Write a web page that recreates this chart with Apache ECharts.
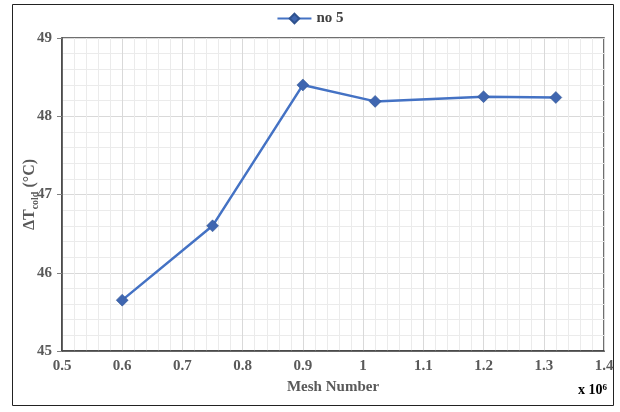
<!DOCTYPE html>
<html>
<head>
<meta charset="utf-8">
<script src="https://cdn.jsdelivr.net/npm/echarts@6/dist/echarts.min.js"></script>
<style>
  html, body { margin: 0; padding: 0; background: #fff; }
  #chart { width: 620px; height: 412px; }
</style>
</head>
<body>
<div id="chart"></div>
<script>
  // mesh number (x 10^6) and cold side temperature difference
  var meshNumber = [0.6, 0.75, 0.9, 1.02, 1.2, 1.32];
  var deltaTCold = [45.65, 46.6, 48.4, 48.19, 48.25, 48.24];
  var seriesName = 'no 5';

  var chart = echarts.init(document.getElementById('chart'));
  var labelFont = {
    fontFamily: 'Liberation Serif',
    fontWeight: 'bold',
    fontSize: 14,
    color: '#595959'
  };

  chart.setOption({
    animation: false,
    legend: {
      top: 6,
      left: 'center',
      data: [seriesName],
      itemWidth: 34,
      itemHeight: 12,
      textStyle: { fontFamily: 'Liberation Serif', fontWeight: 'bold', fontSize: 15, color: '#404040' }
    },
    grid: {
      left: 62, right: 16, top: 38, bottom: 61,
      show: true,
      borderColor: '#404040',
      borderWidth: 1.5
    },
    xAxis: {
      type: 'value',
      min: 0.5, max: 1.4, interval: 0.1,
      name: 'Mesh Number',
      nameLocation: 'middle',
      nameGap: 29,
      nameMoveOverlap: false,
      nameTextStyle: Object.assign({}, labelFont, { fontSize: 15 }),
      axisLine: { show: true, lineStyle: { color: '#404040', width: 1.5 } },
      axisTick: { show: false },
      axisLabel: Object.assign({ margin: 8 }, labelFont, { fontSize: 15 }),
      splitLine: { show: true, lineStyle: { color: '#d9d9d9', width: 1 } },
      minorTick: { show: false, splitNumber: 5 },
      minorSplitLine: { show: true, lineStyle: { color: '#ebebeb', width: 1 } }
    },
    yAxis: {
      type: 'value',
      min: 45, max: 49, interval: 1,
      name: '{d|ΔT}{s|cold}{d| (°C)}',
      nameLocation: 'middle',
      nameGap: 22,
      nameMoveOverlap: false,
      nameTextStyle: {
        rich: {
          d: Object.assign({ lineHeight: 20 }, labelFont, { fontSize: 16 }),
          s: { fontFamily: 'Liberation Serif', fontWeight: 'bold', fontSize: 10, color: '#595959', lineHeight: 12, verticalAlign: 'bottom' }
        }
      },
      axisLine: { show: true, lineStyle: { color: '#404040', width: 1.5 } },
      axisTick: { show: true, length: 5, lineStyle: { color: '#808080' } },
      axisLabel: Object.assign({ margin: 10 }, labelFont, { fontSize: 15 }),
      splitLine: { show: true, lineStyle: { color: '#d9d9d9', width: 1 } },
      minorTick: { show: false, splitNumber: 5 },
      minorSplitLine: { show: true, lineStyle: { color: '#ebebeb', width: 1 } }
    },
    graphic: [
      {
        type: 'rect',
        shape: { x: 12.5, y: 4.5, width: 601, height: 401 },
        style: { fill: 'none', stroke: '#222', lineWidth: 1 },
        silent: true
      },
      {
        type: 'text',
        left: 578, top: 383,
        style: {
          text: '{a|x 10}{b|6}',
          rich: {
            a: { fontFamily: 'Liberation Serif', fontWeight: 'bold', fontSize: 14, color: '#111' },
            b: { fontFamily: 'Liberation Serif', fontWeight: 'bold', fontSize: 9, color: '#111', verticalAlign: 'top', padding: [0, 0, 6, 0] }
          }
        }
      }
    ],
    series: [{
      name: seriesName,
      type: 'line',
      data: meshNumber.map(function (x, i) { return [x, deltaTCold[i]]; }),
      symbol: 'diamond',
      symbolSize: 12,
      color: '#4472C4',
      lineStyle: { width: 2.5, color: '#4472C4' },
      itemStyle: { color: '#3F66B0', borderColor: '#2F528F', borderWidth: 0.5 }
    }]
  });
</script>
</body>
</html>
